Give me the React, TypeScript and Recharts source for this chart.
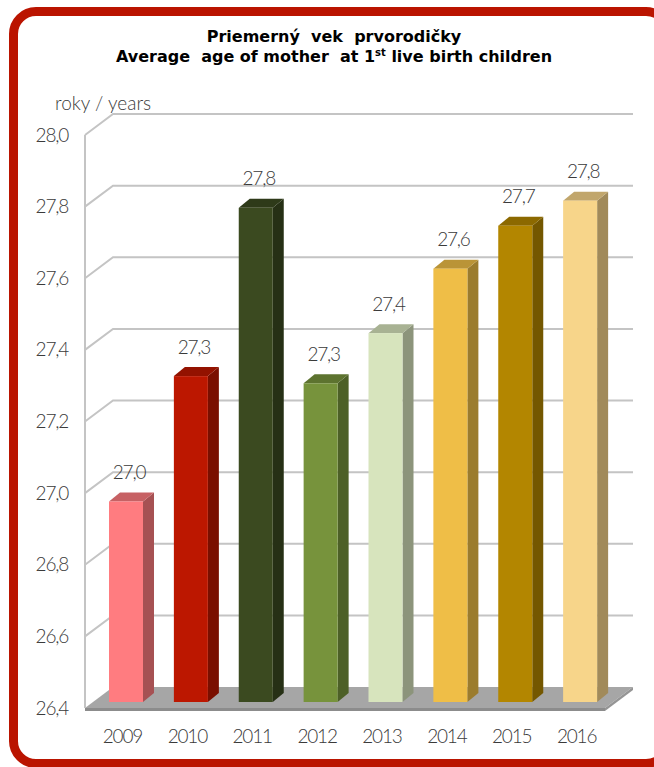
import React from 'react';
import { BarChart, Bar, XAxis, YAxis, CartesianGrid, Cell, LabelList } from 'recharts';

const YEARS = ['2009', '2010', '2011', '2012', '2013', '2014', '2015', '2016'];
const AGE = [26.96, 27.31, 27.78, 27.29, 27.43, 27.61, 27.73, 27.8];
const Y_TICKS = [26.4, 26.6, 26.8, 27.0, 27.2, 27.4, 27.6, 27.8, 28.0];
const COLORS = ['#FF7C80', '#BC1700', '#3B4A20', '#77933C', '#D7E4BD', '#EFBE47', '#B38600', '#F7D58A'];

const data = YEARS.map((year, i) => ({ year, age: AGE[i] }));

const W = 654;
const H = 767;
const MARGIN = { top: 129, right: 41, bottom: 35, left: 0 };
const X_AXIS_H = 30;
const Y_AXIS_W = 94;
const PLOT_BOTTOM = H - MARGIN.bottom - X_AXIS_H;

// 3d offsets
const DX = 11;
const DY = 9;
const GRID_COLOR = '#C4C4C4';
const TEXT = '#3a3a3a';
const FONT = 'Lato, "DejaVu Sans", sans-serif';
const NUM_SIZE = 19;
const NUM_SPACING = -1.2;

const shade = (hex: string, f: number) => {
  const n = parseInt(hex.slice(1), 16);
  const r = Math.round(((n >> 16) & 255) * f);
  const g = Math.round(((n >> 8) & 255) * f);
  const b = Math.round((n & 255) * f);
  return `rgb(${r},${g},${b})`;
};

const fmt = (v: number) => v.toFixed(1).replace('.', ',');

const Bar3D = (props: any) => {
  const { x, y, width, height, fill } = props;
  if (height == null || height <= 0) return null;
  const side = `${x + width},${y} ${x + width + DX},${y - DY} ${x + width + DX},${y + height - DY} ${x + width},${y + height}`;
  const top = `${x},${y} ${x + DX},${y - DY} ${x + width + DX},${y - DY} ${x + width},${y}`;
  return (
    <g>
      <polygon points={side} fill={shade(fill, 0.65)} />
      <polygon points={top} fill={shade(fill, 0.78)} />
      <rect x={x} y={y} width={width} height={height} fill={fill} />
    </g>
  );
};

// gridlines drawn as side wall diagonal + back wall line
const gridLine = (props: any) => {
  const { x1, x2, y1, key } = props;
  const fx = x1 - 9;
  const fy = y1 + 6;
  const bx = x1 + 19;
  const by = y1 - 15;
  const ex = x2 + 20;
  if (Math.abs(y1 - PLOT_BOTTOM) < 1) {
    const fr = x2 - 8;
    return (
      <g key={key}>
        <polygon points={`${fx},${fy} ${fr},${fy} ${ex},${by} ${bx},${by}`} fill="#A6A6A6" />
        <polygon points={`${fx},${fy} ${fr},${fy} ${fr},${fy + 3} ${fx},${fy + 3}`} fill="#8C8C8C" />
        <polygon points={`${fr},${fy} ${ex},${by} ${ex},${by + 3} ${fr},${fy + 3}`} fill="#959595" />
      </g>
    );
  }
  const isTop = Math.abs(y1 - MARGIN.top) < 1;
  return (
    <g key={key}>
      <polyline points={`${fx},${fy} ${bx},${by} ${ex},${by}`} fill="none" stroke={GRID_COLOR} strokeWidth={2} />
      {isTop && <line x1={fx} y1={fy} x2={fx} y2={PLOT_BOTTOM + 6} stroke={GRID_COLOR} strokeWidth={2} />}
    </g>
  );
};

const numText = {
  fontSize: NUM_SIZE,
  fill: TEXT,
  fontFamily: FONT,
  fontWeight: 300,
  letterSpacing: NUM_SPACING,
};

const YTick = (props: any) => {
  const { y, payload } = props;
  return (
    <text x={68} y={y + 5} textAnchor="end" dominantBaseline="central" {...numText}>
      {fmt(payload.value)}
    </text>
  );
};

const XTick = (props: any) => {
  const { x, payload } = props;
  return (
    <text x={x - 4} y={PLOT_BOTTOM + 33} textAnchor="middle" dominantBaseline="central" {...numText}>
      {payload.value}
    </text>
  );
};

const ValueLabel = (props: any) => {
  const { x, y, width, value } = props;
  return (
    <text x={x + width / 2 + 3} y={y - 30} textAnchor="middle" dominantBaseline="central" {...numText}>
      {fmt(value)}
    </text>
  );
};

export default function App() {
  return (
    <div style={{ position: 'absolute', left: 0, top: 0, width: W, height: H, overflow: 'hidden', background: '#fff' }}>
      <div
        style={{
          position: 'absolute',
          left: 9,
          top: 7,
          width: 664,
          height: 761,
          boxSizing: 'border-box',
          border: '9px solid #BA1400',
          borderRadius: 27,
        }}
      />
      <div
        style={{
          position: 'absolute',
          left: 0,
          top: 27,
          width: 668,
          textAlign: 'center',
          fontFamily: '"DejaVu Sans", sans-serif',
          fontWeight: 700,
          fontSize: 16,
          lineHeight: '20px',
          color: '#000',
          whiteSpace: 'pre',
        }}
      >
        <div>Priemerný  vek  prvorodičky</div>
        <div>
          Average  age of mother  at 1<sup style={{ fontSize: 10, lineHeight: 0 }}>st</sup> live birth children
        </div>
      </div>
      <div style={{ position: 'absolute', left: 55, top: 91, fontFamily: FONT, fontWeight: 300, fontSize: 19, color: TEXT }}>
        roky / years
      </div>
      <div style={{ position: 'absolute', left: 0, top: 0 }}>
        <BarChart width={W} height={H} data={data} margin={MARGIN}>
          <CartesianGrid vertical={false} horizontal={gridLine} />
          <XAxis dataKey="year" height={X_AXIS_H} axisLine={false} tickLine={false} tick={<XTick />} interval={0} />
          <YAxis
            width={Y_AXIS_W}
            domain={[26.4, 28.0]}
            ticks={Y_TICKS}
            allowDataOverflow
            axisLine={false}
            tickLine={false}
            tick={<YTick />}
          />
          <Bar dataKey="age" barSize={34} shape={<Bar3D />} isAnimationActive={false}>
            {data.map((d, i) => (
              <Cell key={d.year} fill={COLORS[i]} />
            ))}
            <LabelList dataKey="age" content={<ValueLabel />} />
          </Bar>
        </BarChart>
      </div>
    </div>
  );
}
